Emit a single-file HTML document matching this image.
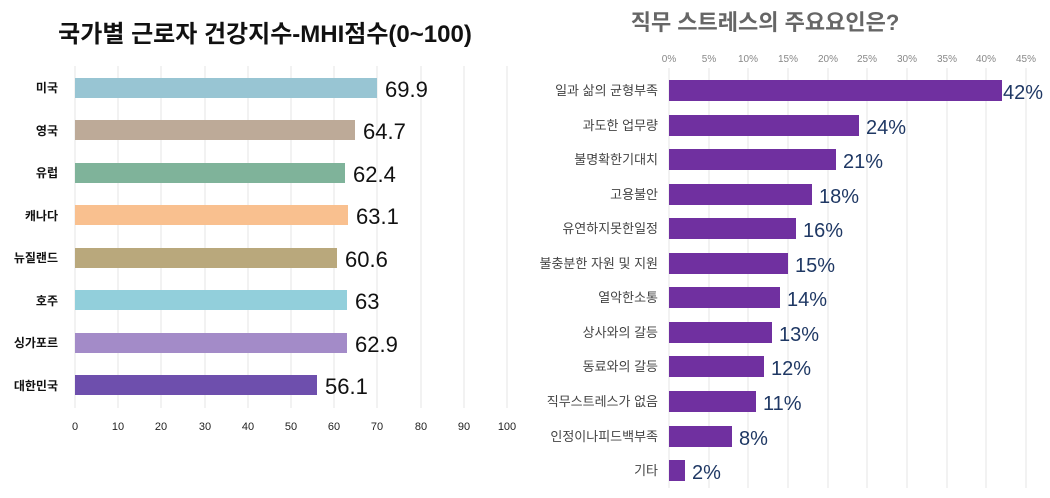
<!DOCTYPE html>
<html><head><meta charset="utf-8"><style>
body{margin:0;background:#fff;width:1050px;height:493px;overflow:hidden;font-family:"Liberation Sans","Noto Sans CJK KR",sans-serif}
</style></head><body>
<svg width="1050" height="493" xmlns="http://www.w3.org/2000/svg" font-family="Liberation Sans, Noto Sans CJK KR, sans-serif">
<text x="265" y="42" font-size="24" font-weight="bold" text-anchor="middle" fill="#111">국가별 근로자 건강지수-MHI점수(0~100)</text>
<g stroke="#e6e6e6" stroke-width="1">
<line x1="75" y1="66" x2="75" y2="408"/><line x1="118" y1="66" x2="118" y2="408"/><line x1="161" y1="66" x2="161" y2="408"/><line x1="205" y1="66" x2="205" y2="408"/><line x1="248" y1="66" x2="248" y2="408"/><line x1="291" y1="66" x2="291" y2="408"/><line x1="334" y1="66" x2="334" y2="408"/><line x1="377" y1="66" x2="377" y2="408"/><line x1="421" y1="66" x2="421" y2="408"/><line x1="464" y1="66" x2="464" y2="408"/><line x1="507" y1="66" x2="507" y2="408"/>
</g>
<g font-size="11" fill="#222" text-anchor="middle">
<text x="75" y="430">0</text><text x="118" y="430">10</text><text x="161" y="430">20</text><text x="205" y="430">30</text><text x="248" y="430">40</text><text x="291" y="430">50</text><text x="334" y="430">60</text><text x="377" y="430">70</text><text x="421" y="430">80</text><text x="464" y="430">90</text><text x="507" y="430">100</text>
</g>
<g font-size="12" font-weight="bold" fill="#111" text-anchor="end">
<text x="58" y="92">미국</text><text x="58" y="135">영국</text><text x="58" y="177">유럽</text><text x="58" y="220">캐나다</text><text x="58" y="262">뉴질랜드</text><text x="58" y="305">호주</text><text x="58" y="347">싱가포르</text><text x="58" y="390">대한민국</text>
</g>
<rect x="75" y="78" width="302" height="20" fill="#98c5d3"/>
<rect x="75" y="120" width="280" height="20" fill="#bdaa98"/>
<rect x="75" y="163" width="270" height="20" fill="#7fb39a"/>
<rect x="75" y="205" width="273" height="20" fill="#f9c08f"/>
<rect x="75" y="248" width="262" height="20" fill="#b9a87c"/>
<rect x="75" y="290" width="272" height="20" fill="#92cfdb"/>
<rect x="75" y="333" width="272" height="20" fill="#a38bc8"/>
<rect x="75" y="375" width="242" height="20" fill="#6e4fad"/>
<g font-size="22" fill="#111">
<text x="385" y="97">69.9</text><text x="363" y="139">64.7</text><text x="353" y="182">62.4</text><text x="356" y="224">63.1</text><text x="345" y="267">60.6</text><text x="355" y="309">63</text><text x="355" y="352">62.9</text><text x="325" y="394">56.1</text>
</g>
<text x="765" y="30" font-size="22" font-weight="bold" text-anchor="middle" fill="#666">직무 스트레스의 주요요인은?</text>
<g stroke="#e6e6e6" stroke-width="1">
<line x1="669" y1="68" x2="669" y2="488"/><line x1="709" y1="68" x2="709" y2="488"/><line x1="748" y1="68" x2="748" y2="488"/><line x1="788" y1="68" x2="788" y2="488"/><line x1="828" y1="68" x2="828" y2="488"/><line x1="867" y1="68" x2="867" y2="488"/><line x1="907" y1="68" x2="907" y2="488"/><line x1="947" y1="68" x2="947" y2="488"/><line x1="986" y1="68" x2="986" y2="488"/><line x1="1026" y1="68" x2="1026" y2="488"/>
</g>
<g font-size="10" fill="#888" text-anchor="middle">
<text x="669" y="62">0%</text><text x="709" y="62">5%</text><text x="748" y="62">10%</text><text x="788" y="62">15%</text><text x="828" y="62">20%</text><text x="867" y="62">25%</text><text x="907" y="62">30%</text><text x="947" y="62">35%</text><text x="986" y="62">40%</text><text x="1026" y="62">45%</text>
</g>
<g font-size="13" fill="#444" text-anchor="end">
<text x="658" y="95">일과 삶의 균형부족</text><text x="658" y="130">과도한 업무량</text><text x="658" y="164">불명확한기대치</text><text x="658" y="199">고용불안</text><text x="658" y="233">유연하지못한일정</text><text x="658" y="268">불충분한 자원 및 지원</text><text x="658" y="302">열악한소통</text><text x="658" y="337">상사와의 갈등</text><text x="658" y="371">동료와의 갈등</text><text x="658" y="406">직무스트레스가 없음</text><text x="658" y="441">인정이나피드백부족</text><text x="658" y="475">기타</text>
</g>
<g fill="#7030a0">
<rect x="669" y="80" width="333" height="21"/><rect x="669" y="115" width="190" height="21"/><rect x="669" y="149" width="167" height="21"/><rect x="669" y="184" width="143" height="21"/><rect x="669" y="218" width="127" height="21"/><rect x="669" y="253" width="119" height="21"/><rect x="669" y="287" width="111" height="21"/><rect x="669" y="322" width="103" height="21"/><rect x="669" y="356" width="95" height="21"/><rect x="669" y="391" width="87" height="21"/><rect x="669" y="426" width="63" height="21"/><rect x="669" y="460" width="16" height="21"/>
</g>
<g font-size="20" fill="#1f3864">
<text x="1003" y="99">42%</text><text x="866" y="134">24%</text><text x="843" y="168">21%</text><text x="819" y="203">18%</text><text x="803" y="237">16%</text><text x="795" y="272">15%</text><text x="787" y="306">14%</text><text x="779" y="341">13%</text><text x="771" y="375">12%</text><text x="763" y="410">11%</text><text x="739" y="445">8%</text><text x="692" y="479">2%</text>
</g>
</svg>
</body></html>
